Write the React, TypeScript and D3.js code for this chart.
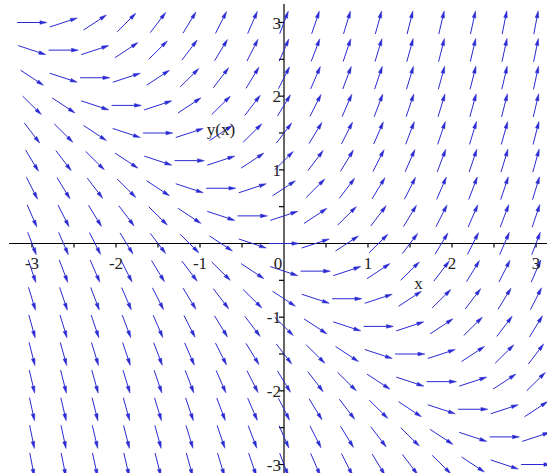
import React, { useEffect, useRef } from 'react';
import * as d3 from 'd3';

// grid of the direction field (x left to right, y top to bottom)
const gridX = [-3, -2.625, -2.25, -1.875, -1.5, -1.125, -0.75, -0.375, 0, 0.375, 0.75, 1.125, 1.5, 1.875, 2.25, 2.625, 3];
const gridY = [3, 2.625, 2.25, 1.875, 1.5, 1.125, 0.75, 0.375, 0, -0.375, -0.75, -1.125, -1.5, -1.875, -2.25, -2.625, -3];

// slope dy/dx at each grid point, one row per gridY value
const slopes = [
  [0, 0.375, 0.75, 1.125, 1.5, 1.875, 2.25, 2.625, 3, 3.375, 3.75, 4.125, 4.5, 4.875, 5.25, 5.625, 6],
  [-0.375, 0, 0.375, 0.75, 1.125, 1.5, 1.875, 2.25, 2.625, 3, 3.375, 3.75, 4.125, 4.5, 4.875, 5.25, 5.625],
  [-0.75, -0.375, 0, 0.375, 0.75, 1.125, 1.5, 1.875, 2.25, 2.625, 3, 3.375, 3.75, 4.125, 4.5, 4.875, 5.25],
  [-1.125, -0.75, -0.375, 0, 0.375, 0.75, 1.125, 1.5, 1.875, 2.25, 2.625, 3, 3.375, 3.75, 4.125, 4.5, 4.875],
  [-1.5, -1.125, -0.75, -0.375, 0, 0.375, 0.75, 1.125, 1.5, 1.875, 2.25, 2.625, 3, 3.375, 3.75, 4.125, 4.5],
  [-1.875, -1.5, -1.125, -0.75, -0.375, 0, 0.375, 0.75, 1.125, 1.5, 1.875, 2.25, 2.625, 3, 3.375, 3.75, 4.125],
  [-2.25, -1.875, -1.5, -1.125, -0.75, -0.375, 0, 0.375, 0.75, 1.125, 1.5, 1.875, 2.25, 2.625, 3, 3.375, 3.75],
  [-2.625, -2.25, -1.875, -1.5, -1.125, -0.75, -0.375, 0, 0.375, 0.75, 1.125, 1.5, 1.875, 2.25, 2.625, 3, 3.375],
  [-3, -2.625, -2.25, -1.875, -1.5, -1.125, -0.75, -0.375, 0, 0.375, 0.75, 1.125, 1.5, 1.875, 2.25, 2.625, 3],
  [-3.375, -3, -2.625, -2.25, -1.875, -1.5, -1.125, -0.75, -0.375, 0, 0.375, 0.75, 1.125, 1.5, 1.875, 2.25, 2.625],
  [-3.75, -3.375, -3, -2.625, -2.25, -1.875, -1.5, -1.125, -0.75, -0.375, 0, 0.375, 0.75, 1.125, 1.5, 1.875, 2.25],
  [-4.125, -3.75, -3.375, -3, -2.625, -2.25, -1.875, -1.5, -1.125, -0.75, -0.375, 0, 0.375, 0.75, 1.125, 1.5, 1.875],
  [-4.5, -4.125, -3.75, -3.375, -3, -2.625, -2.25, -1.875, -1.5, -1.125, -0.75, -0.375, 0, 0.375, 0.75, 1.125, 1.5],
  [-4.875, -4.5, -4.125, -3.75, -3.375, -3, -2.625, -2.25, -1.875, -1.5, -1.125, -0.75, -0.375, 0, 0.375, 0.75, 1.125],
  [-5.25, -4.875, -4.5, -4.125, -3.75, -3.375, -3, -2.625, -2.25, -1.875, -1.5, -1.125, -0.75, -0.375, 0, 0.375, 0.75],
  [-5.625, -5.25, -4.875, -4.5, -4.125, -3.75, -3.375, -3, -2.625, -2.25, -1.875, -1.5, -1.125, -0.75, -0.375, 0, 0.375],
  [-6, -5.625, -5.25, -4.875, -4.5, -4.125, -3.75, -3.375, -3, -2.625, -2.25, -1.875, -1.5, -1.125, -0.75, -0.375, 0],
];

const xTickLabels = [-3, -2, -1, 0, 1, 2, 3];
const yTickLabels = [-3, -2, -1, 1, 2, 3];
const minorTicks = [-3, -2.5, -2, -1.5, -1, -0.5, 0.5, 1, 1.5, 2, 2.5, 3];

const W = 547;
const H = 473;
const BLUE = '#2a2ad2';

export default function App() {
  const ref = useRef<SVGSVGElement>(null);

  useEffect(() => {
    const svg = d3.select(ref.current);
    svg.selectAll('*').remove();

    const x = d3.scaleLinear().domain([-3, 3]).range([32, 536]);
    const y = d3.scaleLinear().domain([-3, 3]).range([464.5, 22.5]);

    svg.append('rect').attr('width', W).attr('height', H).attr('fill', '#fff');

    // axes through the origin
    const axes = svg.append('g').attr('stroke', '#000').attr('stroke-width', 1.2);
    axes.append('line').attr('x1', 9).attr('x2', W).attr('y1', y(0)).attr('y2', y(0));
    axes.append('line').attr('x1', x(0)).attr('x2', x(0)).attr('y1', 4).attr('y2', H);
    axes.selectAll('.xt').data(minorTicks).enter().append('line')
      .attr('x1', d => x(d)).attr('x2', d => x(d))
      .attr('y1', y(0)).attr('y2', y(0) + 4);
    axes.selectAll('.yt').data(minorTicks).enter().append('line')
      .attr('x1', x(0) - 5).attr('x2', x(0))
      .attr('y1', d => y(d)).attr('y2', d => y(d));

    // arrows: same length in a stretched space (wider than tall)
    const lx = 0.355;
    const ly = 0.32;
    const cells: { cx: number; cy: number; s: number }[] = [];
    gridY.forEach((gy, i) => gridX.forEach((gx, j) => cells.push({ cx: gx, cy: gy, s: slopes[i][j] })));

    const arrows = svg.append('g');
    cells.forEach(c => {
      const a = 1 / lx;
      const b = 1 / ly;
      const n = Math.hypot(a, b * c.s);
      const dx = (a / n) * lx;
      const dy = ((b * c.s) / n) * ly;
      const x0 = x(c.cx - dx / 2), y0 = y(c.cy - dy / 2);
      const x1 = x(c.cx + dx / 2), y1 = y(c.cy + dy / 2);
      const ang = Math.atan2(y1 - y0, x1 - x0);
      const hl = 7, hw = 1.8;
      const bx = x1 - hl * Math.cos(ang), by = y1 - hl * Math.sin(ang);
      arrows.append('line')
        .attr('x1', x0).attr('y1', y0).attr('x2', bx).attr('y2', by)
        .attr('stroke', BLUE).attr('stroke-width', 1);
      arrows.append('path')
        .attr('d', `M${x1},${y1}L${bx - hw * Math.sin(ang)},${by + hw * Math.cos(ang)}L${bx + hw * Math.sin(ang)},${by - hw * Math.cos(ang)}Z`)
        .attr('fill', BLUE).attr('stroke', BLUE).attr('stroke-width', 0.5);
    });

    const font = '"Liberation Serif", "Times New Roman", serif';
    const labels = svg.append('g').attr('font-family', font).attr('font-size', 17).attr('fill', '#222');
    labels.selectAll('.xl').data(xTickLabels).enter().append('text')
      .attr('x', d => (d === 0 ? x(0) - 6 : x(d)))
      .attr('y', y(0) + 25)
      .attr('text-anchor', 'middle')
      .text(d => (d < 0 ? '-' + Math.abs(d) : String(d)));
    labels.selectAll('.yl').data(yTickLabels).enter().append('text')
      .attr('x', x(0) - 3)
      .attr('y', d => y(d) + 6)
      .attr('text-anchor', 'end')
      .text(d => (d < 0 ? '-' + Math.abs(d) : String(d)));
    labels.append('text').attr('x', x(1.6)).attr('y', y(-0.62)).attr('text-anchor', 'middle').text('x');
    labels.append('text').attr('x', x(-0.75)).attr('y', y(1.47)).attr('text-anchor', 'middle').text('y(x)');
  }, []);

  return <svg ref={ref} width={W} height={H} style={{ position: 'absolute', left: 0, top: 0, display: 'block' }} />;
}
